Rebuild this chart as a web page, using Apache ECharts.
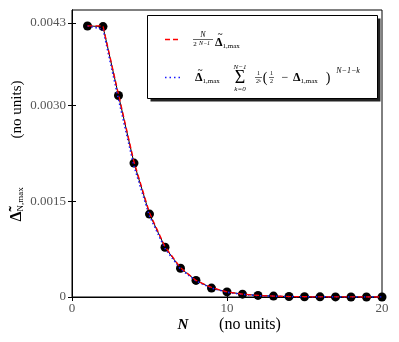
<!DOCTYPE html>
<html>
<head>
<meta charset="utf-8">
<script src="https://cdn.jsdelivr.net/npm/echarts@6/dist/echarts.min.js"></script>
<style>
  html, body { margin: 0; padding: 0; background: #fff; }
  #main { width: 399px; height: 342px; }
</style>
</head>
<body>
<div id="main"></div>
<script>
// N values
var nVals = [1, 2, 3, 4, 5, 6, 7, 8, 9, 10, 11, 12, 13, 14, 15, 16, 17, 18, 19, 20]
// simulated max deviation (black dots) and N/2^(N-1) curve (red)
var simVals = [0.00425, 0.00424, 0.00316, 0.0021, 0.0013, 0.00078, 0.00045, 0.00026, 0.00014, 0.00008,
  0.000045, 0.000025, 0.000014, 0.000007, 0.000004, 0.000002, 0.000001, 0.0000005, 0.0000003, 0.0000001]
var redVals = [0.00425, 0.00425, 0.00318, 0.00212, 0.00132, 0.00079, 0.00046, 0.00026, 0.00015, 0.00008,
  0.000045, 0.000025, 0.000014, 0.000007, 0.000004, 0.000002, 0.000001, 0.0000005, 0.0000003, 0.0000001]
// sum formula (blue)
var blueVals = [0.00425, 0.0042, 0.0031, 0.00205, 0.00127, 0.00076, 0.00044, 0.00025, 0.00014, 0.000075,
  0.00004, 0.000022, 0.000012, 0.000006, 0.000003, 0.000002, 0.000001, 0.0000005, 0.0000002, 0.0000001]
var yTicks = [0, 0.0015, 0.003, 0.0043]
var xTicks = [0, 10, 20]

var serif = "'Liberation Serif', 'DejaVu Serif', serif"

function pairs (vals) {
  return nVals.map(function (n, i) { return [n, vals[i]] })
}

var yLabel = function (v) { return v === 0 ? '0' : v.toFixed(4) }

// small helper for graphic text
function txt (x, y, text, font, extra) {
  var style = { text: text, font: font + ' ' + serif, align: 'center', verticalAlign: 'middle', fill: '#000' }
  for (var k in extra) style[k] = extra[k]
  return { type: 'text', x: x, y: y, z: 12, style: style }
}
function bar (x1, x2, y) {
  return { type: 'line', shape: { x1: x1, y1: y, x2: x2, y2: y }, style: { stroke: '#000', lineWidth: 0.6 }, z: 12 }
}
var subRich = { s: { font: '7px ' + serif, padding: [6, 0, 0, 0] } }

var chart = echarts.init(document.getElementById('main'))
chart.setOption({
  animation: false,
  grid: {
    left: 72, right: 17, top: 10, bottom: 45,
    show: true, borderColor: '#000', borderWidth: 1
  },
  xAxis: [
    {
      type: 'value', min: 0, max: 20, interval: 10,
      axisLine: { lineStyle: { color: '#000' } },
      axisTick: { inside: true, length: 4, lineStyle: { color: '#000' } },
      axisLabel: { fontFamily: serif, fontSize: 13, color: '#555', margin: 5,
        customValues: xTicks },
      splitLine: { show: false }
    },
    {
      type: 'value', min: 0, max: 20, interval: 10, position: 'top',
      axisLine: { lineStyle: { color: '#000' } },
      axisTick: { inside: true, length: 4, lineStyle: { color: '#000' } },
      axisLabel: { show: false },
      splitLine: { show: false }
    }
  ],
  yAxis: [
    {
      type: 'value', min: 0, max: 0.0045,
      axisLine: { show: true, lineStyle: { color: '#000' } },
      axisTick: { inside: true, length: 4, lineStyle: { color: '#000' }, customValues: yTicks },
      axisLabel: { fontFamily: serif, fontSize: 13, color: '#555', margin: 6,
        customValues: yTicks, formatter: yLabel },
      splitLine: { show: false }
    },
    {
      type: 'value', min: 0, max: 0.0045, position: 'right',
      axisLine: { show: true, lineStyle: { color: '#000' } },
      axisTick: { inside: true, length: 4, lineStyle: { color: '#000' }, customValues: yTicks },
      axisLabel: { show: false, customValues: yTicks },
      splitLine: { show: false }
    }
  ],
  series: [
    {
      type: 'line', data: pairs(simVals), z: 2,
      symbol: 'circle', symbolSize: 9,
      itemStyle: { color: '#000' },
      lineStyle: { color: '#000', width: 1 }
    },
    {
      type: 'line', data: pairs(blueVals), z: 3, showSymbol: false,
      lineStyle: { color: '#1a1aff', width: 1.6, type: [1.5, 2.5] }
    },
    {
      type: 'line', data: pairs(redVals), z: 4, showSymbol: false,
      lineStyle: { color: '#ff0000', width: 1.3, type: [5, 3] }
    }
  ],
  graphic: [
    // legend box with shadow
    { type: 'rect', shape: { x: 150.5, y: 18.5, width: 230, height: 83 }, style: { fill: '#222' }, z: 10 },
    { type: 'rect', shape: { x: 147.5, y: 15.5, width: 230, height: 83 },
      style: { fill: '#fff', stroke: '#000', lineWidth: 1 }, z: 11 },
    { type: 'line', shape: { x1: 165, y1: 39.5, x2: 181, y2: 39.5 },
      style: { stroke: '#ff0000', lineWidth: 1.3, lineDash: [5, 3] }, z: 12 },
    { type: 'line', shape: { x1: 165, y1: 77.5, x2: 181, y2: 77.5 },
      style: { stroke: '#1a1aff', lineWidth: 1.6, lineDash: [1.5, 3] }, z: 12 },
    // legend 1: N / 2^(N-1) Δ̃1,max
    txt(203, 35, 'N', 'italic 8px'),
    bar(193, 213, 39.5),
    txt(195, 44.5, '2', '7px'),
    txt(204.5, 43, 'N−1', 'italic 6px'),
    txt(220, 35, '~', 'bold 9px'),
    txt(215, 43, 'Δ{s|1,max}', 'bold 12px', { align: 'left', rich: subRich }),
    // legend 2: Δ̃1,max Σ 1/2^k (1/2 − Δ1,max)^(N−1−k)
    txt(200, 71, '~', 'bold 9px'),
    txt(195, 78, 'Δ{s|1,max}', 'bold 12px', { align: 'left', rich: subRich }),
    txt(240, 67.5, 'N−1', 'italic 7px'),
    txt(240, 78.5, 'Σ', '18px'),
    txt(240, 89, 'k=0', 'italic 7px'),
    txt(258.5, 73.5, '1', '6px'),
    bar(255, 262, 77.5),
    txt(258.5, 81.5, '2ᵏ', '6px'),
    txt(265, 78, '(', '14px'),
    txt(271.5, 73.5, '1', '6px'),
    bar(269, 274, 77.5),
    txt(271.5, 81.5, '2', '6px'),
    txt(285, 78, '−', '12px'),
    txt(293, 78, 'Δ{s|1,max}', 'bold 12px', { align: 'left', rich: subRich }),
    txt(328, 78, ')', '14px'),
    txt(348, 71, 'N−1−k', 'italic 8px'),
    // axis titles
    txt(183, 325, 'N', 'bold italic 15px'),
    txt(250, 325, '(no units)', '16px'),
    { type: 'text', x: 17, y: 151, rotation: Math.PI / 2, z: 12,
      style: { text: '{d|Δ̃}{s|N,max}             (no units)', font: '15px ' + serif, align: 'center', verticalAlign: 'middle',
        rich: { d: { font: 'bold 16px ' + serif }, s: { font: '9px ' + serif, padding: [7, 0, 0, 0] } } } }
  ]
})
</script>
</body>
</html>
